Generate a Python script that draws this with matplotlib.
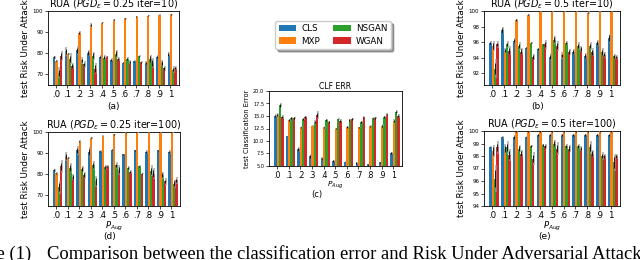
import numpy as np
import matplotlib
matplotlib.use("Agg")
import matplotlib.pyplot as plt

labels = [".0", ".1", ".2", ".3", ".4", ".5", ".6", ".7", ".8", ".9", "1"]
methods = ["CLS", "MXP", "NSGAN", "WGAN"]
colors = ["#1f77b4", "#ff7f0e", "#2ca02c", "#d62728"]

# (a) RUA PGD eps=0.25 iter=10
a_cls = [78.1, 80.9, 81.4, 80.2, 78.2, 77.0, 75.5, 76.3, 75.5, 78.4, 79.4]
a_mxp = [76.4, 79.8, 89.8, 93.4, 94.5, 95.8, 96.6, 97.3, 97.7, 98.1, 98.4]
a_nsgan = [70.8, 77.4, 76.6, 78.8, 78.0, 79.7, 77.5, 78.6, 77.3, 75.5, 72.3]
a_wgan = [78.8, 74.1, 74.7, 72.8, 78.3, 77.3, 75.8, 75.8, 75.5, 73.0, 73.0]
a_err_cls = [0.8, 2.0, 2.0, 1.5, 0.8, 0.8, 0.4, 0.4, 0.8, 0.8, 1.2]
a_err_mxp = [0.4, 0.4, 0.8, 0.8, 0.3, 0.3, 0.3, 0.3, 0.3, 0.3, 0.3]
a_err_nsgan = [2.5, 2.5, 1.5, 2.0, 1.2, 2.0, 0.8, 0.4, 2.0, 1.5, 1.5]
a_err_wgan = [2.5, 1.5, 1.5, 2.5, 0.4, 0.8, 0.8, 0.4, 2.5, 1.2, 0.8]

# (b) RUA PGD eps=0.5 iter=10
b_cls = [95.9, 97.5, 96.2, 95.3, 95.1, 94.1, 94.3, 94.7, 94.2, 95.9, 96.5]
b_mxp = [95.5, 94.9, 98.8, 99.5, 100.0, 100.0, 100.0, 100.0, 99.8, 100.0, 100.0]
b_nsgan = [92.6, 95.7, 95.5, 95.9, 95.7, 96.3, 95.9, 95.5, 95.5, 94.7, 94.2]
b_wgan = [95.7, 94.9, 94.8, 94.1, 95.7, 95.5, 94.7, 95.1, 94.7, 94.4, 94.1]
b_err_cls = [0.2, 0.5, 0.3, 0.1, 0.2, 0.5, 0.4, 0.4, 0.4, 0.4, 0.6]
b_err_mxp = [0.6, 0.3, 0.2, 0.1, 0.1, 0.1, 0.1, 0.1, 0.2, 0.1, 0.1]
b_err_nsgan = [1.2, 0.4, 0.5, 0.1, 0.1, 0.5, 0.3, 0.5, 0.5, 0.5, 0.3]
b_err_wgan = [0.4, 0.6, 0.5, 0.4, 0.6, 0.6, 0.4, 0.4, 0.5, 0.4, 0.2]

# (c) CLF ERR
c_cls = [15.0, 11.0, 8.3, 6.9, 6.5, 6.0, 5.8, 5.6, 5.3, 5.7, 7.6]
c_mxp = [15.2, 14.2, 12.7, 13.0, 12.7, 12.5, 12.8, 12.7, 12.9, 13.0, 14.0]
c_nsgan = [17.1, 14.6, 14.4, 13.8, 14.2, 14.3, 14.2, 13.8, 14.5, 14.8, 15.8]
c_wgan = [14.8, 14.6, 14.8, 15.2, 13.8, 14.0, 14.4, 14.7, 14.6, 15.3, 15.0]
c_err_cls = [0.3, 0.1, 0.5, 0.4, 0.2, 0.2, 0.1, 0.2, 0.1, 0.1, 0.2]
c_err_mxp = [0.3, 0.2, 0.2, 0.1, 0.2, 0.1, 0.2, 0.1, 0.2, 0.3, 0.3]
c_err_nsgan = [0.4, 0.2, 0.2, 0.4, 0.2, 0.2, 0.2, 0.2, 0.2, 0.2, 0.3]
c_err_wgan = [0.4, 0.2, 0.2, 0.8, 0.2, 0.3, 0.2, 0.2, 0.2, 0.3, 0.4]

# (d) RUA PGD eps=0.25 iter=100
d_cls = [81.8, 88.5, 91.3, 90.5, 91.0, 91.6, 89.4, 91.3, 90.5, 91.3, 90.5]
d_mxp = [80.6, 87.8, 95.6, 97.2, 98.1, 98.9, 99.7, 100.0, 100.0, 100.0, 100.0]
d_nsgan = [73.9, 82.9, 82.6, 84.2, 83.4, 84.2, 82.9, 83.9, 81.7, 79.5, 75.5]
d_wgan = [83.7, 78.7, 79.5, 76.6, 83.9, 82.1, 81.0, 80.3, 80.3, 76.6, 77.1]
d_err_cls = [0.8, 2.0, 2.0, 2.5, 0.4, 0.4, 0.3, 0.3, 0.8, 0.3, 0.8]
d_err_mxp = [0.4, 0.4, 0.4, 0.4, 0.3, 0.3, 0.3, 0.3, 0.3, 0.3, 0.3]
d_err_nsgan = [3.0, 2.5, 1.5, 2.0, 1.2, 1.5, 0.8, 0.4, 2.5, 1.5, 2.0]
d_err_wgan = [3.0, 1.5, 1.5, 2.5, 0.4, 2.5, 0.8, 0.4, 2.5, 1.5, 1.5]

# (e) RUA PGD eps=0.5 iter=100
e_cls = [98.7, 99.5, 99.5, 99.5, 99.7, 99.7, 99.7, 99.7, 99.7, 99.7, 99.7]
e_mxp = [98.4, 98.6, 100.0, 100.0, 100.0, 100.0, 100.0, 100.0, 100.0, 100.0, 100.0]
e_nsgan = [96.2, 98.7, 98.6, 98.8, 98.9, 99.0, 98.8, 98.8, 98.7, 98.0, 97.5]
e_wgan = [98.7, 98.1, 98.2, 97.8, 98.8, 98.6, 98.6, 98.6, 98.2, 98.0, 98.0]
e_err_cls = [0.1, 0.1, 0.2, 0.1, 0.1, 0.1, 0.1, 0.1, 0.1, 0.1, 0.1]
e_err_mxp = [0.5, 0.4, 0.1, 0.1, 0.1, 0.1, 0.1, 0.1, 0.1, 0.1, 0.1]
e_err_nsgan = [1.1, 0.5, 0.3, 0.1, 0.1, 0.3, 0.2, 0.2, 0.5, 0.3, 0.7]
e_err_wgan = [0.5, 0.5, 0.3, 0.5, 0.2, 0.5, 0.3, 0.2, 0.3, 0.2, 0.2]

offsets = [-0.15, 0.05, 0.25, 0.45]
width = 0.2


def draw_panel(ax, series, errs, ylim, yticks, title, ylabel, xlabel, fs):
    x = np.arange(len(labels))
    for i in range(4):
        xs = x + offsets[i]
        ax.bar(xs, series[i], width=width, color=colors[i], label=methods[i], zorder=2)
        err = np.array(errs[i])
        ax.errorbar(xs + 0.05, series[i], yerr=err, fmt="none", ecolor="0.6",
                    elinewidth=1.2, alpha=0.8, zorder=3)
        ax.errorbar(xs - 0.02, series[i], yerr=err * 0.6, fmt="none", ecolor="black",
                    elinewidth=0.6, zorder=4)
    ax.set_xlim(-0.7, 10.75)
    ax.set_ylim(*ylim)
    ax.set_yticks(yticks)
    ax.tick_params(axis="y", labelsize=fs["ytick"], length=2, width=0.5, pad=1.5)
    ax.tick_params(axis="x", labelsize=fs["xtick"], length=2, width=0.5, pad=1.5)
    ax.set_xticks(x)
    ax.set_xticklabels(labels)
    ax.set_title(title, fontsize=fs["title"], pad=1)
    ax.set_ylabel(ylabel, fontsize=fs["ylabel"], labelpad=2)
    if xlabel:
        ax.set_xlabel(xlabel, fontsize=fs["xlabel"], labelpad=0)
    for s in ax.spines.values():
        s.set_linewidth(0.6)


fig = plt.figure(figsize=(6.4, 2.6), dpi=100)
W, H = 640.0, 260.0


def add_ax(x0, x1, y0, y1):
    return fig.add_axes([x0 / W, 1 - y1 / H, (x1 - x0) / W, (y1 - y0) / H])


fs_big = {"ytick": 4, "xtick": 6.2, "title": 6.9, "ylabel": 6.3, "xlabel": 6.0}
fs_small = {"ytick": 3.6, "xtick": 5.6, "title": 5.6, "ylabel": 4.9, "xlabel": 5.4}
rua = "test Risk Under Attack"

ax_a = add_ax(48, 179, 11, 85)
draw_panel(ax_a, [a_cls, a_mxp, a_nsgan, a_wgan],
           [a_err_cls, a_err_mxp, a_err_nsgan, a_err_wgan],
           (65, 100), [70, 80, 90, 100],
           r"RUA ($PGD_\epsilon = 0.25$ iter=10)", rua, None, fs_big)

ax_b = add_ax(484, 620, 11, 85)
draw_panel(ax_b, [b_cls, b_mxp, b_nsgan, b_wgan],
           [b_err_cls, b_err_mxp, b_err_nsgan, b_err_wgan],
           (90.5, 100), [92, 94, 96, 98, 100],
           r"RUA ($PGD_\epsilon = 0.5$ iter=10)", rua, None, fs_big)

ax_d = add_ax(48, 180, 132, 206)
draw_panel(ax_d, [d_cls, d_mxp, d_nsgan, d_wgan],
           [d_err_cls, d_err_mxp, d_err_nsgan, d_err_wgan],
           (65, 100), [70, 80, 90, 100],
           r"RUA ($PGD_\epsilon = 0.25$ iter=100)", rua, r"$P_{Aug}$", fs_big)

ax_e = add_ax(484, 620, 131, 206)
draw_panel(ax_e, [e_cls, e_mxp, e_nsgan, e_wgan],
           [e_err_cls, e_err_mxp, e_err_nsgan, e_err_wgan],
           (94, 100), [94, 95, 96, 97, 98, 99, 100],
           r"RUA ($PGD_\epsilon = 0.5$ iter=100)", rua, r"$P_{Aug}$", fs_big)

ax_c = add_ax(269, 402, 91, 166)
draw_panel(ax_c, [c_cls, c_mxp, c_nsgan, c_wgan],
           [c_err_cls, c_err_mxp, c_err_nsgan, c_err_wgan],
           (5, 20), [5.0, 7.5, 10.0, 12.5, 15.0, 17.5, 20.0],
           "CLF ERR", "test Classification Error", r"$P_{Aug}$", fs_small)
ax_c.set_yticklabels(["5.0", "7.5", "10.0", "12.5", "15.0", "17.5", "20.0"])

# sub-figure labels
for txt, xp, yp, size in [("(a)", 114, 107, 6.5), ("(b)", 538, 107, 6.5),
                          ("(c)", 317, 194, 6.0), ("(d)", 110, 236, 6.5),
                          ("(e)", 545, 237, 6.5)]:
    fig.text(xp / W, 1 - yp / H, txt, ha="center", va="center", fontsize=size)

handles, hl = ax_a.get_legend_handles_labels()
fig.legend(handles[:4], methods, loc="center", bbox_to_anchor=(333 / W, 1 - 35 / H),
           ncol=2, fontsize=6.3, frameon=True, shadow=True, fancybox=True,
           handlelength=2.0, handleheight=0.7, columnspacing=1.5, handletextpad=0.6,
           labelspacing=0.35, borderpad=0.4)

# figure caption (cut off in the source image)
fig.text(31 / W, 1 - 259 / H, "Figure (1)", ha="right", va="baseline",
         fontsize=13.4, family="Liberation Serif")
fig.text(47 / W, 1 - 259 / H,
         "Comparison between the classification error and Risk Under Adversarial Attacks",
         ha="left", va="baseline", fontsize=13.4, family="Liberation Serif")

fig.savefig("out.png", dpi=100)
